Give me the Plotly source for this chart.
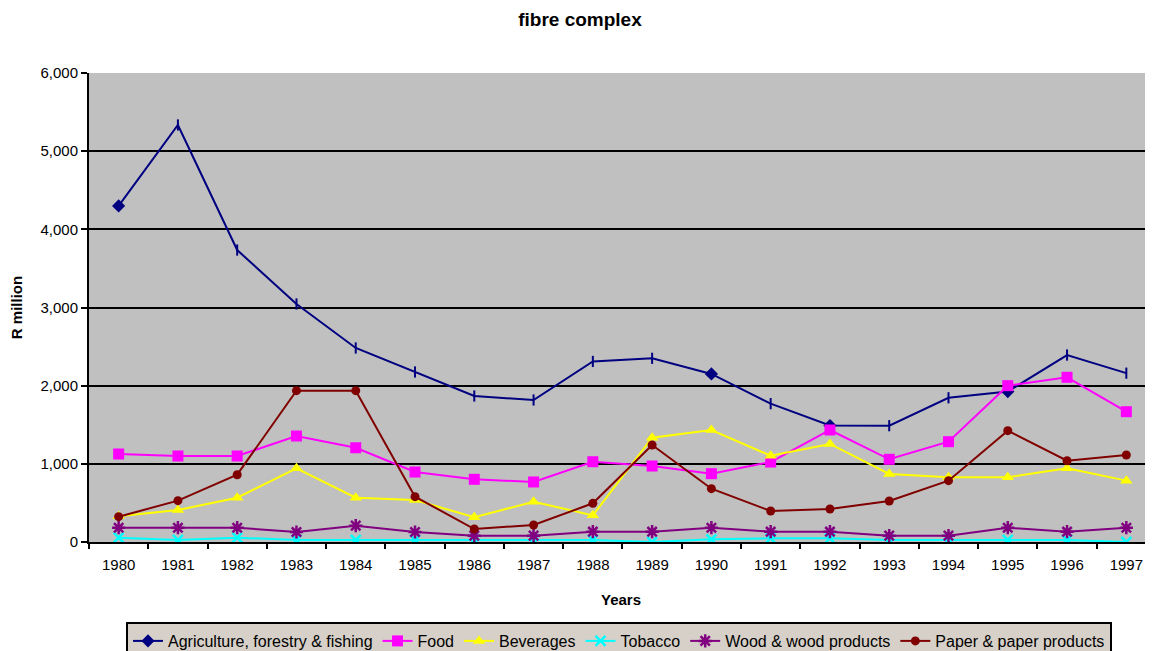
import plotly.graph_objects as go

years = [str(y) for y in range(1980, 1998)]
agri = [4300, 5335, 3735, 3045, 2482, 2175, 1868, 1817, 2310, 2350, 2150, 1770, 1490, 1488, 1845, 1925, 2392, 2160]
food = [1126, 1100, 1100, 1356, 1206, 895, 802, 768, 1027, 972, 874, 1023, 1433, 1058, 1283, 2000, 2107, 1667]
bev = [330, 409, 567, 943, 567, 537, 316, 516, 341, 1334, 1433, 1104, 1254, 870, 827, 827, 943, 785]
tob = [55, 26, 55, 26, 26, 26, 26, 26, 26, 0, 34, 47, 47, 26, 26, 26, 26, 0]
wood = [183, 183, 183, 128, 209, 128, 81, 81, 132, 132, 183, 132, 132, 81, 81, 183, 132, 183]
paper = [324, 529, 861, 1936, 1936, 580, 166, 217, 495, 1241, 682, 397, 422, 524, 785, 1424, 1040, 1113]

series_names = ["Agriculture, forestry & fishing", "Food", "Beverages", "Tobacco",
                "Wood & wood products", "Paper & paper products"]
y_ticks = [0, 1000, 2000, 3000, 4000, 5000, 6000]
title_text = "fibre complex"

FONT = "Arial, Liberation Sans, sans-serif"

# page body has an 8px margin: figure is 1145x643, placed at (8, 8)
W, H = 1145, 643
OFF = 8

agri_symbols = ["line-ns"] * len(years)
for i in (0, 10, 12, 15):
    agri_symbols[i] = "diamond"

fig = go.Figure()
styles = [
    (agri, "#000080", dict(symbol=agri_symbols, size=8, line=dict(color="#000080", width=2))),
    (food, "#FF00FF", dict(symbol="square", size=11, color="#FF00FF")),
    (bev, "#FFFF00", dict(symbol="triangle-up", size=11, color="#FFFF00")),
    (tob, "#00FFFF", dict(symbol="x-thin", size=10, line=dict(color="#00FFFF", width=2.5))),
    (wood, "#800080", dict(symbol="asterisk", size=11, line=dict(color="#800080", width=2.5))),
    (paper, "#800000", dict(symbol="circle", size=9, color="#800000")),
]
for (vals, col, mk), name in zip(styles, series_names):
    if "color" not in mk:
        mk["color"] = col
    fig.add_trace(go.Scatter(x=years, y=vals, name=name, mode="lines+markers",
                             line=dict(color=col, width=2), marker=mk))

fig.update_layout(
    width=W, height=H,
    margin=dict(l=89 - OFF, r=0, t=73 - OFF, b=H - (542 - OFF)),
    paper_bgcolor="white",
    plot_bgcolor="#C0C0C0",
    font=dict(family=FONT, size=15, color="black"),
    title=dict(text=title_text, font=dict(family=FONT, size=19, color="black", weight="bold"),
               xref="container", x=(580 - OFF) / W, xanchor="center",
               yref="container", y=1 - (19 - OFF) / H, yanchor="middle"),
    xaxis=dict(type="category", range=[-0.5, 17.45], showgrid=False, automargin=False,
               showline=True, linecolor="black", linewidth=2,
               ticks="outside", tickson="boundaries", ticklen=5, tickwidth=2, tickcolor="black",
               tickfont=dict(size=15), ticklabelstandoff=8,
               title=dict(text="Years", font=dict(size=15, weight="bold"), standoff=22)),
    yaxis=dict(range=[0, 6000], tickvals=y_ticks, tickformat=",d", automargin=False,
               showgrid=True, gridcolor="black", gridwidth=2,
               showline=True, linecolor="black", linewidth=2, zeroline=False,
               ticks="outside", ticklen=6, tickwidth=2, tickcolor="black",
               tickfont=dict(size=15),
               title=dict(text="R million", font=dict(size=15, weight="bold"), standoff=22)),
    legend=dict(orientation="h", xref="container", x=(126 - OFF) / W, xanchor="left",
                yref="container", y=1 - (622 - OFF) / H, yanchor="top",
                bgcolor="#D6D0C8", bordercolor="black", borderwidth=2,
                font=dict(size=16), itemwidth=30, tracegroupgap=0),
    showlegend=True,
)

fig.write_html("out.html")
